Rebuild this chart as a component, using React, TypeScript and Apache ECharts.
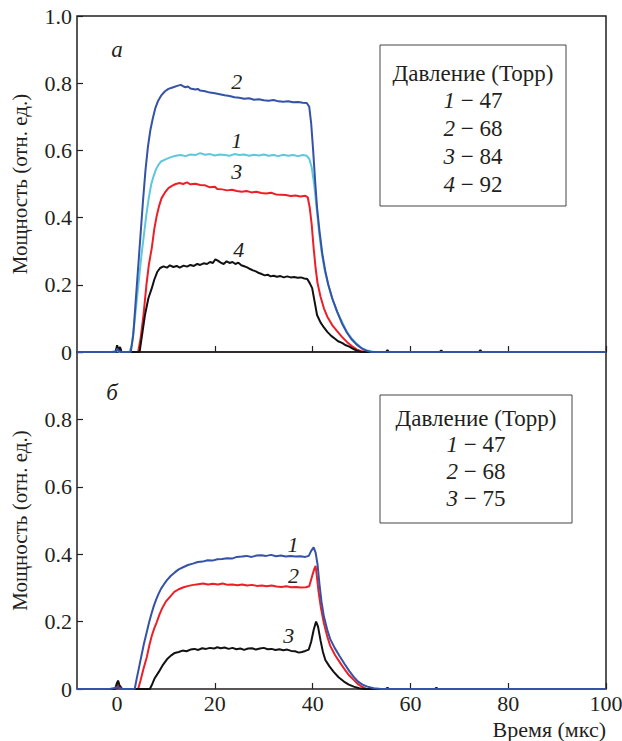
import React, { useEffect, useRef } from "react";
import * as echarts from "echarts";

// ---------- data (time in µs, power in rel. units) ----------
const xTicks = [0, 20, 40, 60, 80, 100];
const xTitle = "Время (мкс)";
const yTitle = "Мощность (отн. ед.)";

// panel (а)
const topTitle = "Давление (Торр)";
const topLegend = [
  ["1", "47"],
  ["2", "68"],
  ["3", "84"],
  ["4", "92"],
];
const topCurve1: number[][] = [
  [-8.2, 0], [-1, 0], [0, 0.005], [0.5, 0], [2.5, 0], [3, 0.02], [3.5, 0.08], [4, 0.15], [4.5, 0.22], [5, 0.29],
  [5.5, 0.35], [6, 0.41], [6.5, 0.46], [7, 0.5], [7.5, 0.525], [8, 0.545], [8.5, 0.558], [9, 0.567], [10, 0.574],
  [11, 0.58], [12, 0.584], [13, 0.586], [14, 0.583], [15, 0.588], [16, 0.586], [17, 0.592], [18, 0.587], [19, 0.589],
  [20, 0.585], [21, 0.588], [22, 0.586], [23, 0.584], [24, 0.589], [25, 0.586], [26, 0.588], [27, 0.584], [28, 0.587],
  [29, 0.585], [30, 0.588], [31, 0.584], [32, 0.586], [33, 0.583], [34, 0.587], [35, 0.584], [36, 0.586], [37, 0.583],
  [38, 0.586], [38.8, 0.584], [39.3, 0.575], [39.8, 0.55], [40.3, 0.5], [40.8, 0.43], [41.3, 0.36], [41.8, 0.3],
  [42.5, 0.24], [43.2, 0.2], [44, 0.16], [45, 0.12], [46, 0.09], [47, 0.06], [48, 0.04], [49, 0.025], [50, 0.012],
  [51, 0.005], [52.5, 0], [100, 0],
];
const topCurve2: number[][] = [
  [-8.2, 0], [-0.3, 0], [0, 0.01], [0.4, 0.003], [0.8, 0], [2.8, 0], [3.3, 0.05], [3.8, 0.15], [4.3, 0.25], [4.8, 0.35],
  [5.3, 0.45], [5.8, 0.54], [6.3, 0.61], [6.8, 0.66], [7.3, 0.695], [7.8, 0.725], [8.4, 0.748], [9, 0.763],
  [9.8, 0.776], [10.5, 0.783], [11.5, 0.788], [12.3, 0.792], [13, 0.795], [13.5, 0.791], [14, 0.788], [14.5, 0.79],
  [15, 0.784], [16, 0.781], [16.5, 0.783], [17, 0.778], [18, 0.776], [19, 0.772], [20, 0.77], [21, 0.767],
  [22, 0.764], [23, 0.762], [24, 0.758], [25, 0.757], [26, 0.754], [27, 0.755], [28, 0.751], [29, 0.752],
  [30, 0.749], [31, 0.748], [32, 0.75], [33, 0.746], [34, 0.745], [35, 0.746], [36, 0.743], [37, 0.744],
  [38, 0.742], [38.8, 0.741], [39.3, 0.73], [39.7, 0.68], [40.1, 0.6], [40.5, 0.51], [40.9, 0.43], [41.4, 0.36],
  [42, 0.29], [42.6, 0.24], [43.2, 0.2], [44, 0.16], [45, 0.12], [46, 0.085], [47, 0.058], [48, 0.037],
  [49, 0.022], [50, 0.011], [51, 0.004], [52, 0], [100, 0],
];
const topCurve3: number[][] = [
  [-8.2, 0], [-0.3, 0], [0, 0.014], [0.3, 0.004], [0.6, 0.012], [0.9, 0], [4.3, 0], [4.8, 0.04], [5.4, 0.11], [6, 0.2],
  [6.5, 0.26], [7.1, 0.31], [7.6, 0.365], [8.1, 0.405], [8.6, 0.435], [9.1, 0.458], [9.8, 0.475], [10.5, 0.488],
  [11.3, 0.495], [12, 0.5], [12.8, 0.503], [13.5, 0.5], [14.3, 0.505], [15, 0.499], [16, 0.501], [17, 0.497],
  [18, 0.496], [19, 0.49], [20, 0.492], [20.5, 0.485], [21.5, 0.484], [22.5, 0.481], [23.5, 0.483], [24.5, 0.479],
  [25.5, 0.477], [26.5, 0.479], [27.5, 0.475], [28.5, 0.477], [29.5, 0.473], [30.5, 0.472], [31.5, 0.474],
  [32.5, 0.469], [33.5, 0.468], [34.5, 0.467], [35.5, 0.464], [36.5, 0.466], [37.5, 0.463], [38.5, 0.465],
  [39, 0.46], [39.4, 0.43], [39.8, 0.38], [40.2, 0.31], [40.6, 0.25], [41, 0.205], [41.6, 0.165], [42.3, 0.13],
  [43, 0.105], [44, 0.08], [45, 0.062], [46, 0.045], [47, 0.03], [48, 0.018], [49, 0.008], [50, 0.002], [51, 0],
  [100, 0],
];
const topCurve4: number[][] = [
  [-8.2, 0], [-0.3, 0], [0, 0.02], [0.3, 0.005], [0.6, 0.015], [0.9, 0], [4.6, 0], [5, 0.04], [5.7, 0.11],
  [6.4, 0.16], [7.1, 0.19], [7.6, 0.215], [8.2, 0.238], [8.8, 0.25], [9.5, 0.255], [10.2, 0.251], [10.8, 0.258],
  [11.5, 0.253], [12.2, 0.256], [12.8, 0.251], [13.6, 0.257], [14.3, 0.254], [15, 0.259], [15.7, 0.256],
  [16.4, 0.262], [17, 0.259], [17.7, 0.264], [18.4, 0.262], [19, 0.268], [19.6, 0.265], [20.1, 0.276],
  [20.6, 0.272], [21.2, 0.266], [21.8, 0.262], [22.4, 0.27], [23, 0.265], [23.6, 0.268], [24.2, 0.262],
  [24.8, 0.266], [25.4, 0.258], [26, 0.255], [26.6, 0.252], [27.2, 0.247], [27.8, 0.243], [28.4, 0.24],
  [29, 0.235], [29.6, 0.232], [30.2, 0.228], [30.8, 0.23], [31.4, 0.225], [32, 0.227], [32.7, 0.224],
  [33.4, 0.226], [34.1, 0.222], [34.8, 0.225], [35.5, 0.222], [36.2, 0.223], [36.9, 0.221], [37.6, 0.222],
  [38.3, 0.219], [38.9, 0.217], [39.4, 0.205], [39.9, 0.19], [40.4, 0.15], [40.9, 0.11], [41.6, 0.088],
  [42.3, 0.073], [43, 0.06], [43.8, 0.048], [44.5, 0.04], [45.2, 0.032], [46, 0.027], [46.8, 0.02],
  [47.5, 0.016], [48.2, 0.01], [49, 0.004], [50, 0], [55, 0], [55.3, 0.006], [55.6, 0], [66, 0], [66.3, 0.005],
  [66.6, 0], [74, 0], [74.3, 0.006], [74.6, 0], [100, 0],
];

// panel (б)
const bottomTitle = "Давление (Торр)";
const bottomLegend = [
  ["1", "47"],
  ["2", "68"],
  ["3", "75"],
];
const botCurve1: number[][] = [
  [-8.2, 0], [-1.5, 0], [-0.5, 0.003], [0, 0.006], [0.5, 0.004], [1, 0], [3.6, 0], [4, 0.03], [4.5, 0.065], [5, 0.1],
  [5.5, 0.135], [6, 0.165], [6.5, 0.195], [7, 0.222], [7.5, 0.246], [8, 0.266], [8.5, 0.283], [9, 0.298],
  [9.6, 0.311], [10.2, 0.323], [11, 0.336], [11.8, 0.346], [12.6, 0.355], [13.6, 0.362], [14.5, 0.368],
  [15.5, 0.372], [16.5, 0.377], [17.5, 0.378], [18.5, 0.382], [19.5, 0.381], [20.5, 0.385], [21.5, 0.386],
  [22.5, 0.388], [23.5, 0.387], [24.5, 0.392], [25.5, 0.393], [26.5, 0.395], [27.5, 0.392], [28.5, 0.396],
  [29.5, 0.397], [30.5, 0.395], [31.5, 0.398], [32.5, 0.394], [33.5, 0.396], [34.5, 0.393], [35.5, 0.395],
  [36.5, 0.393], [37.5, 0.394], [38.5, 0.392], [39.2, 0.395], [39.7, 0.41], [40.2, 0.42], [40.6, 0.405],
  [41, 0.37], [41.4, 0.31], [41.8, 0.26], [42.3, 0.215], [43, 0.175], [43.6, 0.148], [44.5, 0.122],
  [45.5, 0.098], [46.5, 0.075], [47.5, 0.053], [48.4, 0.036], [49.3, 0.022], [50.2, 0.013], [51.2, 0.007],
  [52.5, 0.002], [54, 0], [100, 0],
];
const botCurve2: number[][] = [
  [-8.2, 0], [-0.3, 0], [0, 0.012], [0.3, 0.003], [0.6, 0.01], [0.9, 0], [4.3, 0], [4.8, 0.025], [5.4, 0.06],
  [6.1, 0.096], [6.6, 0.13], [7.1, 0.158], [7.6, 0.18], [8.1, 0.198], [8.7, 0.222], [9.3, 0.242], [10, 0.26],
  [10.9, 0.275], [11.7, 0.288], [12.6, 0.296], [13.6, 0.302], [14.6, 0.306], [15.6, 0.309], [16.6, 0.311],
  [17.6, 0.313], [18.6, 0.31], [19.6, 0.312], [20.6, 0.31], [21.6, 0.313], [22.6, 0.309], [23.6, 0.31],
  [24.6, 0.308], [25.6, 0.31], [26.6, 0.307], [27.6, 0.309], [28.6, 0.306], [29.6, 0.307], [30.6, 0.305],
  [31.6, 0.307], [32.6, 0.304], [33.6, 0.303], [34.6, 0.305], [35.6, 0.302], [36.6, 0.303], [37.6, 0.301],
  [38.6, 0.302], [39.3, 0.305], [39.8, 0.33], [40.3, 0.355], [40.6, 0.365], [40.9, 0.33], [41.2, 0.29],
  [41.7, 0.24], [42.3, 0.195], [43, 0.155], [43.6, 0.128], [44.6, 0.1], [45.7, 0.076], [46.6, 0.057],
  [47.5, 0.04], [48.4, 0.027], [49.3, 0.014], [50.2, 0.006], [51, 0], [100, 0],
];
const botCurve3: number[][] = [
  [-8.2, 0], [-0.4, 0], [-0.1, 0.015], [0.2, 0.025], [0.5, 0.01], [0.8, 0.004], [1.1, 0], [6.7, 0], [7.2, 0.015],
  [7.7, 0.032], [8.5, 0.05], [9.3, 0.07], [10.2, 0.088], [11, 0.099], [11.8, 0.107], [12.6, 0.11], [13.4, 0.114],
  [14.2, 0.112], [15, 0.117], [15.8, 0.119], [16.6, 0.116], [17.4, 0.121], [18.2, 0.119], [19, 0.122],
  [19.8, 0.12], [20.5, 0.124], [21.2, 0.121], [22, 0.123], [22.8, 0.119], [23.6, 0.122], [24.4, 0.118],
  [25.2, 0.12], [26, 0.116], [26.8, 0.12], [27.6, 0.121], [28.4, 0.117], [29.2, 0.12], [30, 0.122],
  [30.8, 0.118], [31.6, 0.119], [32.4, 0.116], [33.2, 0.118], [34, 0.115], [34.8, 0.117], [35.6, 0.113],
  [36.4, 0.112], [37.2, 0.108], [37.8, 0.11], [38.5, 0.113], [39.2, 0.117], [39.7, 0.14], [40.2, 0.175],
  [40.7, 0.2], [41.1, 0.185], [41.6, 0.145], [42.1, 0.11], [42.6, 0.086], [43.4, 0.068], [44.3, 0.051],
  [45.3, 0.035], [46.4, 0.022], [47.4, 0.013], [48.4, 0.007], [49.5, 0.002], [50.5, 0], [55, 0], [55.3, 0.004],
  [55.6, 0], [65, 0], [65.3, 0.004], [65.6, 0], [100, 0],
];

// curve tags placed in data coordinates: [label, x, y]
const topTags: [string, number, number][] = [
  ["2", 24.5, 0.804],
  ["1", 24.5, 0.63],
  ["3", 24.5, 0.537],
  ["4", 24.9, 0.304],
];
const bottomTags: [string, number, number][] = [
  ["1", 36, 0.43],
  ["2", 36.1, 0.338],
  ["3", 35.1, 0.16],
];

// ---------- styling ----------
const FONT = "Liberation Serif";
const INK = "#231f20";
const BLUE = "#3452a6";
const CYAN = "#5ec7dd";
const RED = "#ec1f27";
const BLACK = "#111111";

const GRID_LEFT = 77;
const GRID_W = 529;

function tagPoints(tags: [string, number, number][]) {
  return {
    symbol: "rect",
    symbolSize: 1,
    silent: true,
    itemStyle: { color: "transparent" },
    label: {
      show: true,
      position: "inside",
      fontFamily: FONT,
      fontStyle: "italic",
      fontSize: 22,
      color: INK,
      formatter: (p: any) => p.name,
    },
    data: tags.map(([n, x, y]) => ({ name: n, coord: [x, y] })),
  };
}

function line(name: string, data: number[][], color: string, idx: number, tags?: [string, number, number][]) {
  const s: any = {
    type: "line",
    name,
    data,
    xAxisIndex: idx,
    yAxisIndex: idx,
    showSymbol: false,
    symbol: "none",
    lineStyle: { color, width: 2 },
    itemStyle: { color },
    silent: true,
  };
  if (tags) s.markPoint = tagPoints(tags);
  return s;
}

function legendBox(x: number, y: number, w: number, h: number, title: string, rows: string[][], cx: number, y0: number, step: number) {
  const children: any[] = [
    {
      type: "rect",
      shape: { x, y, width: w, height: h },
      style: { fill: "#fff", stroke: "#444", lineWidth: 1 },
    },
    {
      type: "text",
      x: cx,
      y: y0,
      style: { text: title, fill: INK, fontFamily: FONT, fontSize: 23, align: "center", verticalAlign: "middle" },
    },
  ];
  rows.forEach((r, i) => {
    children.push({
      type: "text",
      x: cx,
      y: y0 + step * (i + 1),
      style: {
        text: `{i|${r[0]}} − ${r[1]}`,
        fill: INK,
        fontFamily: FONT,
        fontSize: 23,
        align: "center",
        verticalAlign: "middle",
        rich: { i: { fontStyle: "italic", fontFamily: FONT, fontSize: 23, fill: INK } },
      },
    });
  });
  return { type: "group", children };
}

export default function App() {
  const ref = useRef<HTMLDivElement>(null);

  useEffect(() => {
    if (!ref.current) return;
    const chart = echarts.init(ref.current, null, { renderer: "svg" });

    const axisText = { fontFamily: FONT, fontSize: 22, color: INK };
    const xAxisBase: any = {
      type: "value",
      min: -8.2,
      max: 100,
      axisLine: { show: false, onZero: false },
      axisTick: { show: true, inside: true, length: 6, customValues: xTicks, lineStyle: { color: INK, width: 1.2 } },
      splitLine: { show: false },
    };
    const yAxisBase: any = {
      type: "value",
      min: 0,
      max: 1,
      interval: 0.2,
      axisLine: { show: false, onZero: false },
      axisTick: { show: true, inside: true, length: 6, lineStyle: { color: INK, width: 1.2 } },
      splitLine: { show: false },
      name: yTitle,
      nameLocation: "middle",
      nameRotate: 90,
      nameGap: 47,
      nameTextStyle: { fontFamily: FONT, fontSize: 21, color: INK },
    };

    chart.setOption({
      animation: false,
      backgroundColor: "#fff",
      textStyle: { fontFamily: FONT },
      grid: [
        {
          left: GRID_LEFT, top: 16, width: GRID_W, height: 336, show: true, borderColor: INK, borderWidth: 1.5,
          containLabel: false, outerBoundsMode: "none",
        },
        {
          left: GRID_LEFT, top: 352, width: GRID_W, height: 337, show: true, borderColor: INK, borderWidth: 1.5,
          containLabel: false, outerBoundsMode: "none",
        },
      ],
      xAxis: [
        { ...xAxisBase, gridIndex: 0, axisLabel: { show: false } },
        {
          ...xAxisBase,
          gridIndex: 1,
          axisLabel: { show: true, customValues: xTicks, margin: 3, ...axisText },
        },
      ],
      yAxis: [
        {
          ...yAxisBase,
          gridIndex: 0,
          axisLabel: { ...axisText, margin: 5, formatter: (v: number) => (v === 0 ? "0" : v.toFixed(1)) },
        },
        {
          ...yAxisBase,
          gridIndex: 1,
          axisLabel: {
            ...axisText,
            margin: 5,
            formatter: (v: number) => (v > 0.95 ? "" : v === 0 ? "0" : v.toFixed(1)),
          },
        },
      ],
      graphic: [
        {
          type: "text",
          x: 117,
          y: 49,
          style: { text: "а", fill: INK, fontFamily: FONT, fontStyle: "italic", fontSize: 23, align: "center", verticalAlign: "middle" },
        },
        {
          type: "text",
          x: 112,
          y: 392,
          style: { text: "б", fill: INK, fontFamily: FONT, fontStyle: "italic", fontSize: 23, align: "center", verticalAlign: "middle" },
        },
        {
          type: "text",
          x: 606,
          y: 729,
          style: { text: xTitle, fill: INK, fontFamily: FONT, fontSize: 22, align: "right", verticalAlign: "middle" },
        },
        legendBox(380, 45, 186, 161, topTitle, topLegend, 473, 73, 27.8),
        legendBox(380, 395, 192, 128, bottomTitle, bottomLegend, 476, 418, 26.7),
      ],
      series: [
        line("1 − 47", topCurve1, CYAN, 0),
        line("3 − 84", topCurve3, RED, 0),
        line("4 − 92", topCurve4, BLACK, 0),
        line("2 − 68", topCurve2, BLUE, 0, topTags),
        line("2 − 68", botCurve2, RED, 1),
        line("3 − 75", botCurve3, BLACK, 1),
        line("1 − 47", botCurve1, BLUE, 1, bottomTags),
      ],
    });

    return () => chart.dispose();
  }, []);

  return <div ref={ref} style={{ position: "fixed", left: 0, top: 0, width: 622, height: 741 }} />;
}
